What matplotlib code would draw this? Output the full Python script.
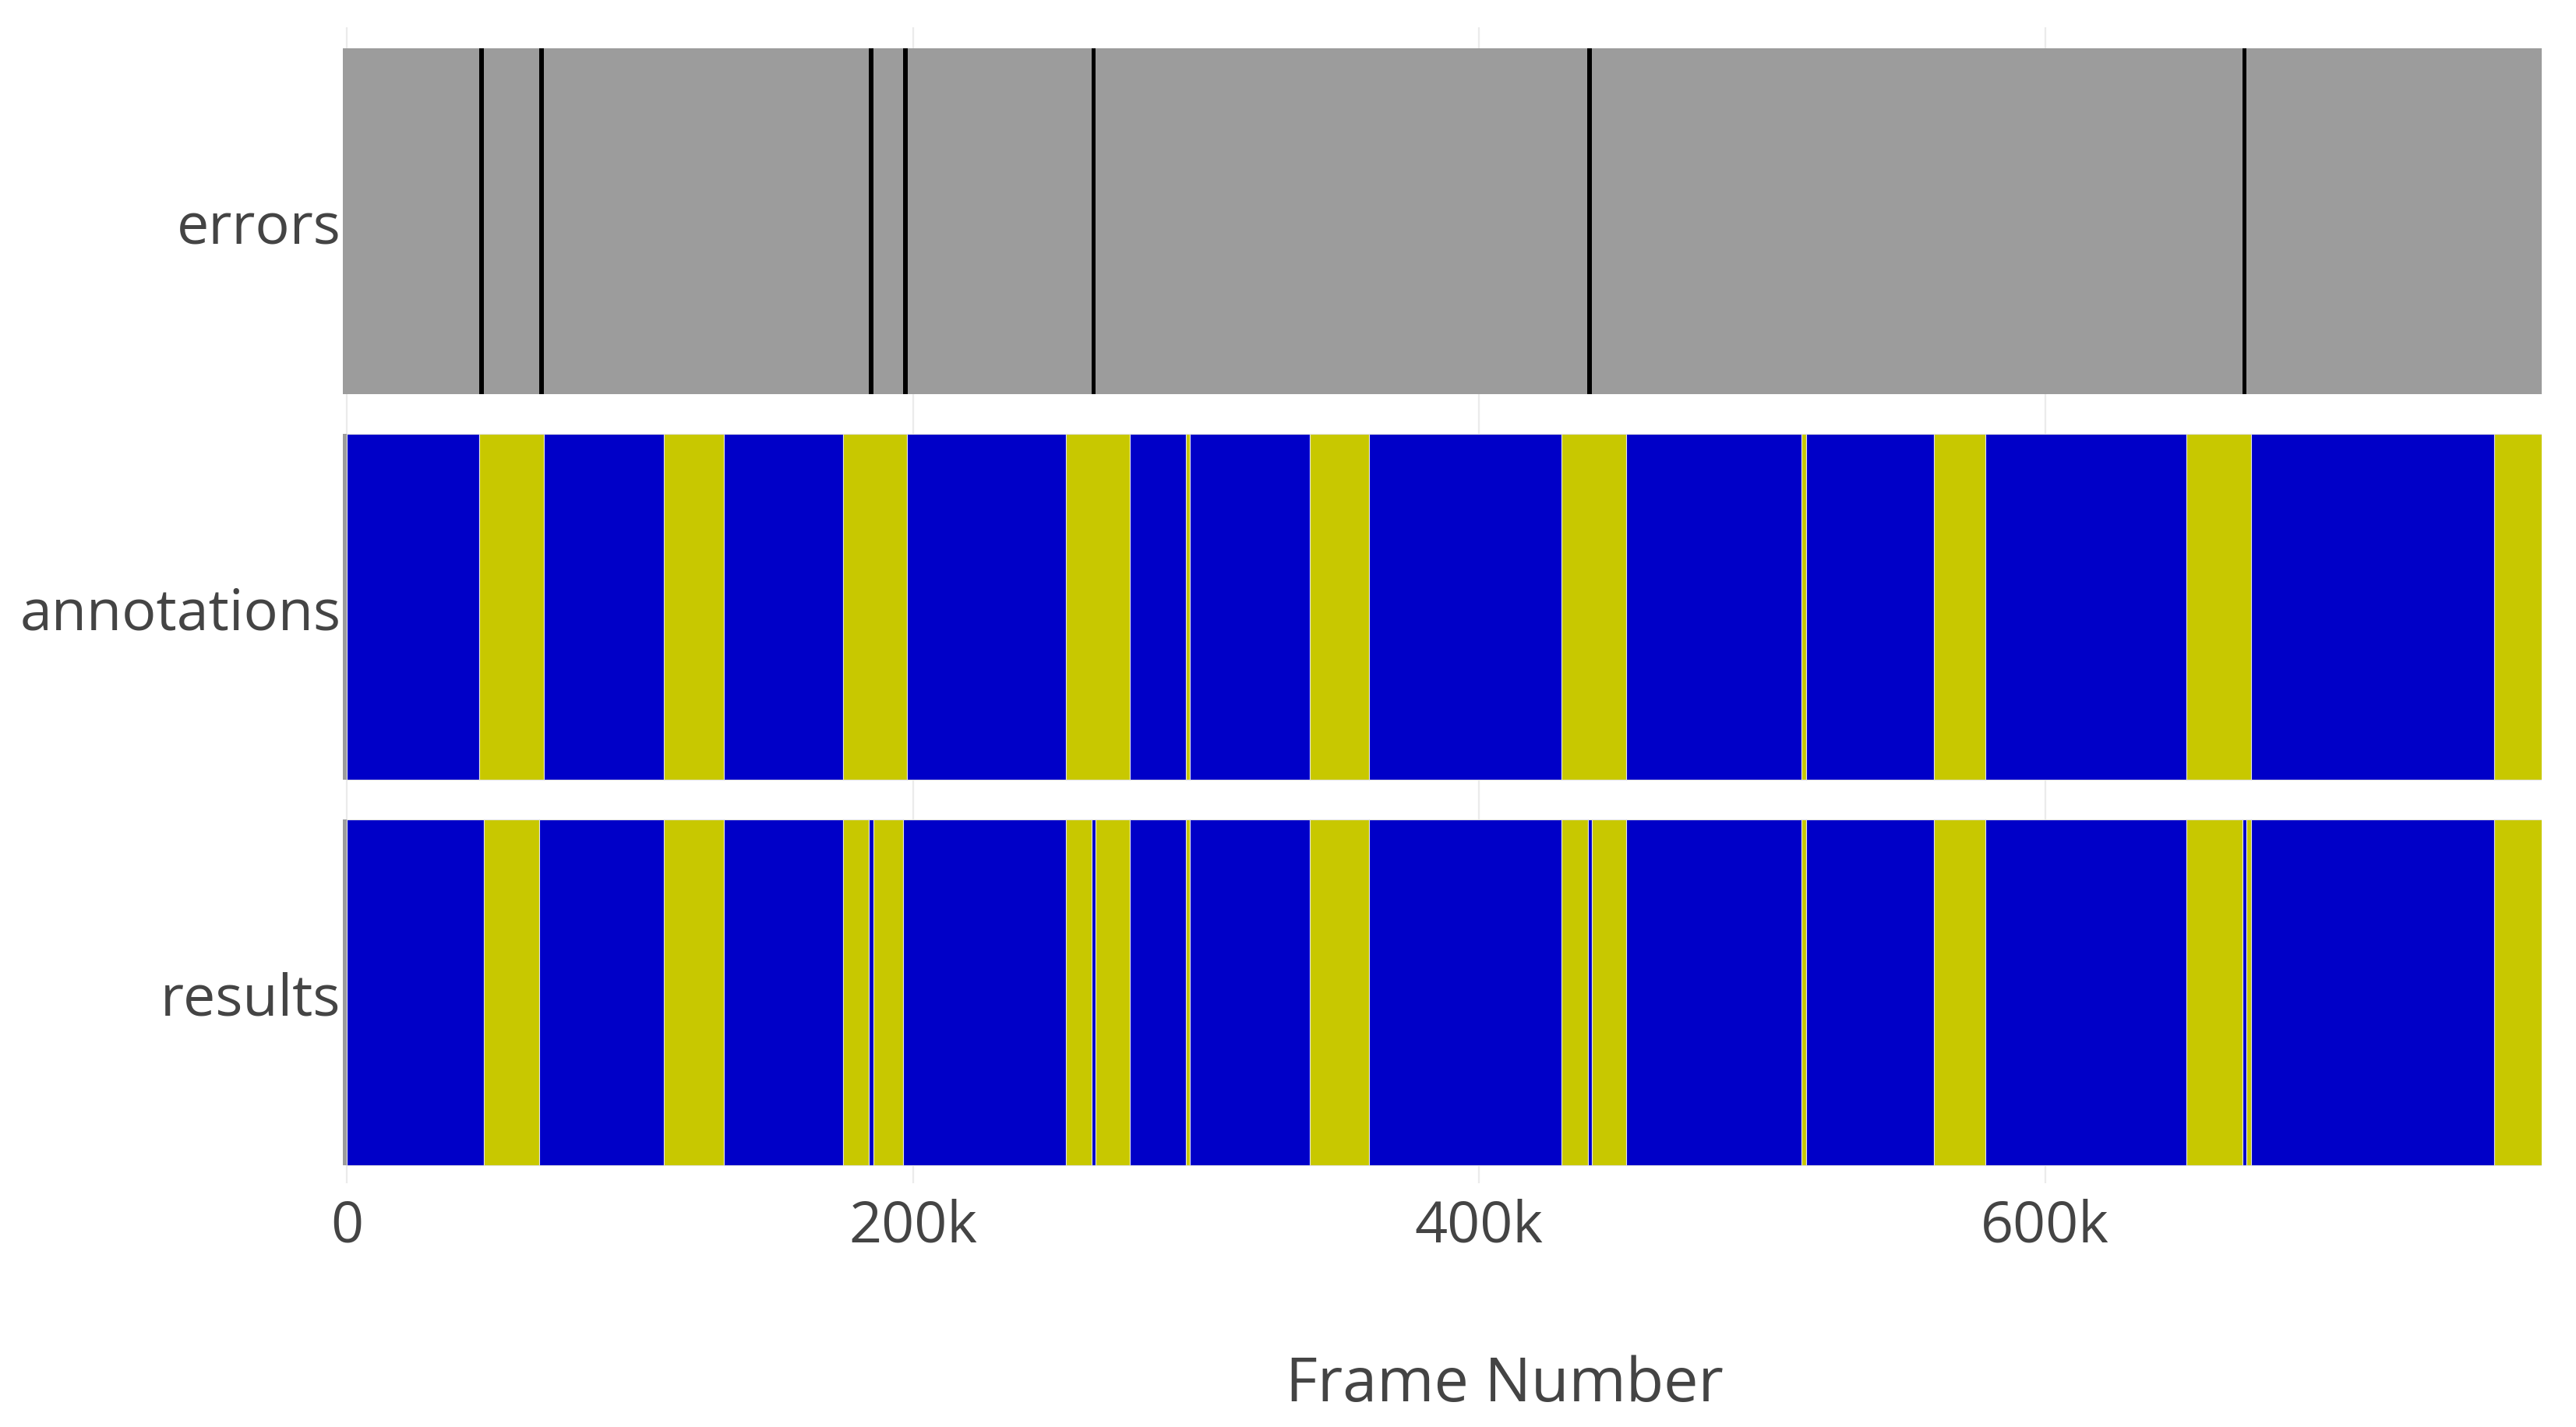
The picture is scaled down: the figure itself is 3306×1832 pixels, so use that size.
import matplotlib
matplotlib.use("Agg")
import matplotlib.pyplot as plt

# tracks, bottom to top
tracks = ["results", "annotations", "errors"]

# segment boundaries in frames; segments alternate blue / yellow starting with blue
annotation_edges = [0, 46900, 69600, 111900, 133200, 175400, 197900, 254000, 276600,
                    296400, 297900, 340200, 361300, 429300, 452100, 514000, 515500,
                    560900, 579000, 650000, 672700, 758800, 775500]
result_edges = [0, 48500, 68100, 111900, 133200, 175400, 184500, 186100, 196600,
                254000, 263100, 264500, 276600, 296400, 297900, 340200, 361300,
                429300, 438400, 439900, 452100, 514000, 515500, 560900, 579000,
                650000, 669700, 671200, 672700, 758800, 775500]
# frames where results and annotations disagree
error_frames = [47600, 68800, 185300, 197400, 263800, 439100, 670400]
error_width = 1500

x_min, x_max = -1400, 775500
tick_vals = [0, 200000, 400000, 600000]
tick_labels = ["0", "200k", "400k", "600k"]

BLUE = "#0000c8"
YELLOW = "#c8c800"
GREY = "#9c9c9c"
TXT = "#444444"
H = 0.896

plt.rcParams["font.family"] = ["Open Sans", "DejaVu Sans"]
W, Hpx = 3306, 1833
fig = plt.figure(figsize=(W / 100, Hpx / 100), dpi=100)
ax = fig.add_axes([440 / W, 1 - 1520 / Hpx, (3262 - 440) / W, (1520 - 36) / Hpx])

# grey base under every track
for y in range(len(tracks)):
    ax.barh(y, x_max - x_min, left=x_min, height=H, color=GREY, lw=0, zorder=2)


def draw_track(y, edges):
    for i in range(len(edges) - 1):
        ax.barh(y, edges[i + 1] - edges[i], left=edges[i], height=H,
                color=BLUE if i % 2 == 0 else YELLOW,
                edgecolor="#e4e4e4", lw=0.8, zorder=3)


draw_track(0, result_edges)
draw_track(1, annotation_edges)
for f in error_frames:
    ax.barh(2, error_width, left=f - error_width / 2, height=H, color="black", lw=0, zorder=3)

ax.set_xlim(x_min, x_max)
ax.set_ylim(-0.4945, 2.503)
ax.set_xticks(tick_vals)
ax.set_xticklabels(tick_labels)
ax.set_yticks(range(len(tracks)))
ax.set_yticklabels(tracks)
ax.grid(axis="x", color="#ebebeb", lw=1.6, zorder=0)
ax.grid(axis="y", visible=False)
ax.set_axisbelow(True)
for s in ax.spines.values():
    s.set_visible(False)
ax.tick_params(axis="x", length=0, pad=13, labelsize=53, labelcolor=TXT)
ax.tick_params(axis="y", length=0, pad=2, labelsize=53, labelcolor=TXT)
for lbl in ax.get_yticklabels():
    lbl.set_y(lbl.get_position()[1])

fig.text(1931 / W, 1 - 1779 / Hpx, "Frame Number", ha="center", va="center",
         fontsize=57, color=TXT)

fig.savefig("out.png", dpi=100, facecolor="white")
